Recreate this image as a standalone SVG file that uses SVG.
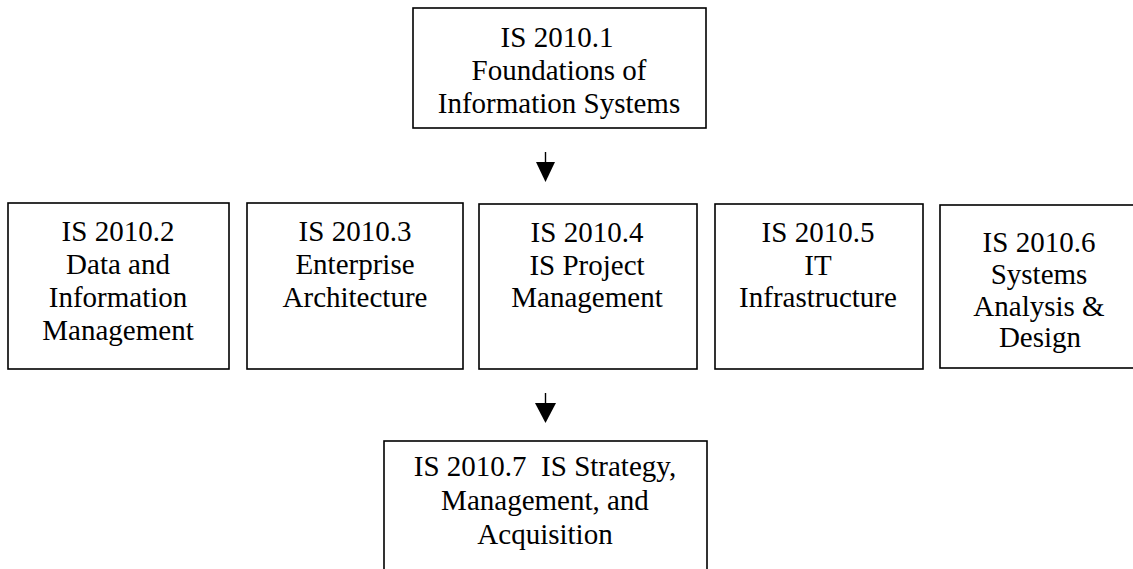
<svg xmlns="http://www.w3.org/2000/svg" width="1133" height="569" viewBox="0 0 1133 569">
<style>
.box{fill:#fff;stroke:#000;stroke-width:1.6}
.t{font-family:"Liberation Serif","Times New Roman",serif;font-size:29px;fill:#000;text-anchor:middle}
.ln{stroke:#000;stroke-width:1.4;fill:none}
.hd{fill:#000;stroke:none}
</style>
<rect width="1133" height="569" fill="#fff"/>
<g id="n1">
<rect class="box" x="413" y="8" width="293" height="120"/>
<text class="t" x="557" y="47">IS 2010.1</text>
<text class="t" x="559" y="80">Foundations of</text>
<text class="t" x="559" y="113">Information Systems</text>
</g>
<g id="n2">
<rect class="box" x="8" y="203" width="221" height="166"/>
<text class="t" x="118" y="241">IS 2010.2</text>
<text class="t" x="118" y="274">Data and</text>
<text class="t" x="118" y="307">Information</text>
<text class="t" x="118" y="340">Management</text>
</g>
<g id="n3">
<rect class="box" x="247" y="203" width="216" height="166"/>
<text class="t" x="355" y="241">IS 2010.3</text>
<text class="t" x="355" y="274">Enterprise</text>
<text class="t" x="355" y="307">Architecture</text>
</g>
<g id="n4">
<rect class="box" x="479" y="204" width="218" height="165"/>
<text class="t" x="587" y="242">IS 2010.4</text>
<text class="t" x="587" y="275">IS Project</text>
<text class="t" x="587" y="307">Management</text>
</g>
<g id="n5">
<rect class="box" x="715" y="204" width="208" height="165"/>
<text class="t" x="818" y="242">IS 2010.5</text>
<text class="t" x="818" y="275">IT</text>
<text class="t" x="818" y="307">Infrastructure</text>
</g>
<g id="n6">
<rect class="box" x="940" y="205" width="200" height="163"/>
<text class="t" x="1039" y="252">IS 2010.6</text>
<text class="t" x="1039" y="284">Systems</text>
<text class="t" x="1039" y="316">Analysis &amp;</text>
<text class="t" x="1040" y="347">Design</text>
</g>
<g id="n7">
<rect class="box" x="384" y="441" width="323" height="140"/>
<text class="t" x="545" y="476" xml:space="preserve">IS 2010.7  IS Strategy,</text>
<text class="t" x="545" y="510">Management, and</text>
<text class="t" x="545" y="544">Acquisition</text>
</g>
<g id="connectors">
<line class="ln" x1="545.5" y1="152" x2="545.5" y2="163"/>
<polygon class="hd" points="536,162 555,162 545.5,182"/>
<line class="ln" x1="545.5" y1="393" x2="545.5" y2="404"/>
<polygon class="hd" points="535,403 556,403 545.5,423"/>
</g>
</svg>
